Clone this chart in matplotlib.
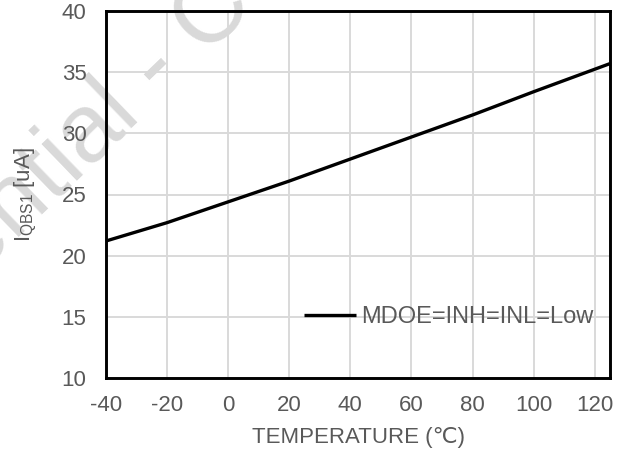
import numpy as np
import matplotlib.pyplot as plt

plt.rcParams['font.family'] = ['Liberation Sans', 'DejaVu Sans']
plt.rcParams['axes.unicode_minus'] = False
plt.rcParams['mathtext.fontset'] = 'custom'
plt.rcParams['mathtext.rm'] = 'Liberation Sans'
plt.rcParams['mathtext.it'] = 'Liberation Sans'

# values
temp = [-40, -20, 0, 20, 40, 60, 80, 100, 125]
iqbs1 = [21.2, 22.7, 24.4, 26.1, 27.9, 29.7, 31.5, 33.4, 35.7]

xticks = [-40, -20, 0, 20, 40, 60, 80, 100, 120]
yticks = [10, 15, 20, 25, 30, 35, 40]

gray = '#595959'

fig = plt.figure(figsize=(6.26, 4.5), dpi=100)
ax = fig.add_axes([106/626, 72/450, 504/626, 367/450])
ax.set_zorder(1)
ax.patch.set_alpha(0)

# watermark behind everything
fig.text(0.25, 0.845, 'Confidential - Confidential', fontsize=70, color='#d9d9d9',
         rotation=44, ha='center', va='center', zorder=0)

ax.plot(temp, iqbs1, color='black', lw=2.4, label='MDOE=INH=INL=Low', solid_capstyle='butt')

ax.set_xlim(-40, 125)
ax.set_ylim(10, 40)
ax.set_xticks(xticks)
ax.set_yticks(yticks)
ax.grid(True, color='#d9d9d9', lw=1.4)
ax.set_axisbelow(True)
ax.tick_params(length=0, labelsize=16, labelcolor=gray)
ax.tick_params(axis='x', pad=12)
ax.tick_params(axis='y', pad=14)
for s in ax.spines.values():
    s.set_linewidth(2.1)
    s.set_color('black')

ax.set_xlabel('TEMPERATURE (℃)', fontsize=16, color=gray, labelpad=8)
ax.set_ylabel(r'I$_{\mathregular{QBS1}}$ [uA]', fontsize=16, color=gray, labelpad=16)

leg = ax.legend(loc='center right', bbox_to_anchor=(0.985, 0.165), frameon=False,
                fontsize=17, handlelength=2.2, handletextpad=0.2, borderaxespad=0.0)
for t in leg.get_texts():
    t.set_color(gray)

fig.savefig('out.png', dpi=100)
